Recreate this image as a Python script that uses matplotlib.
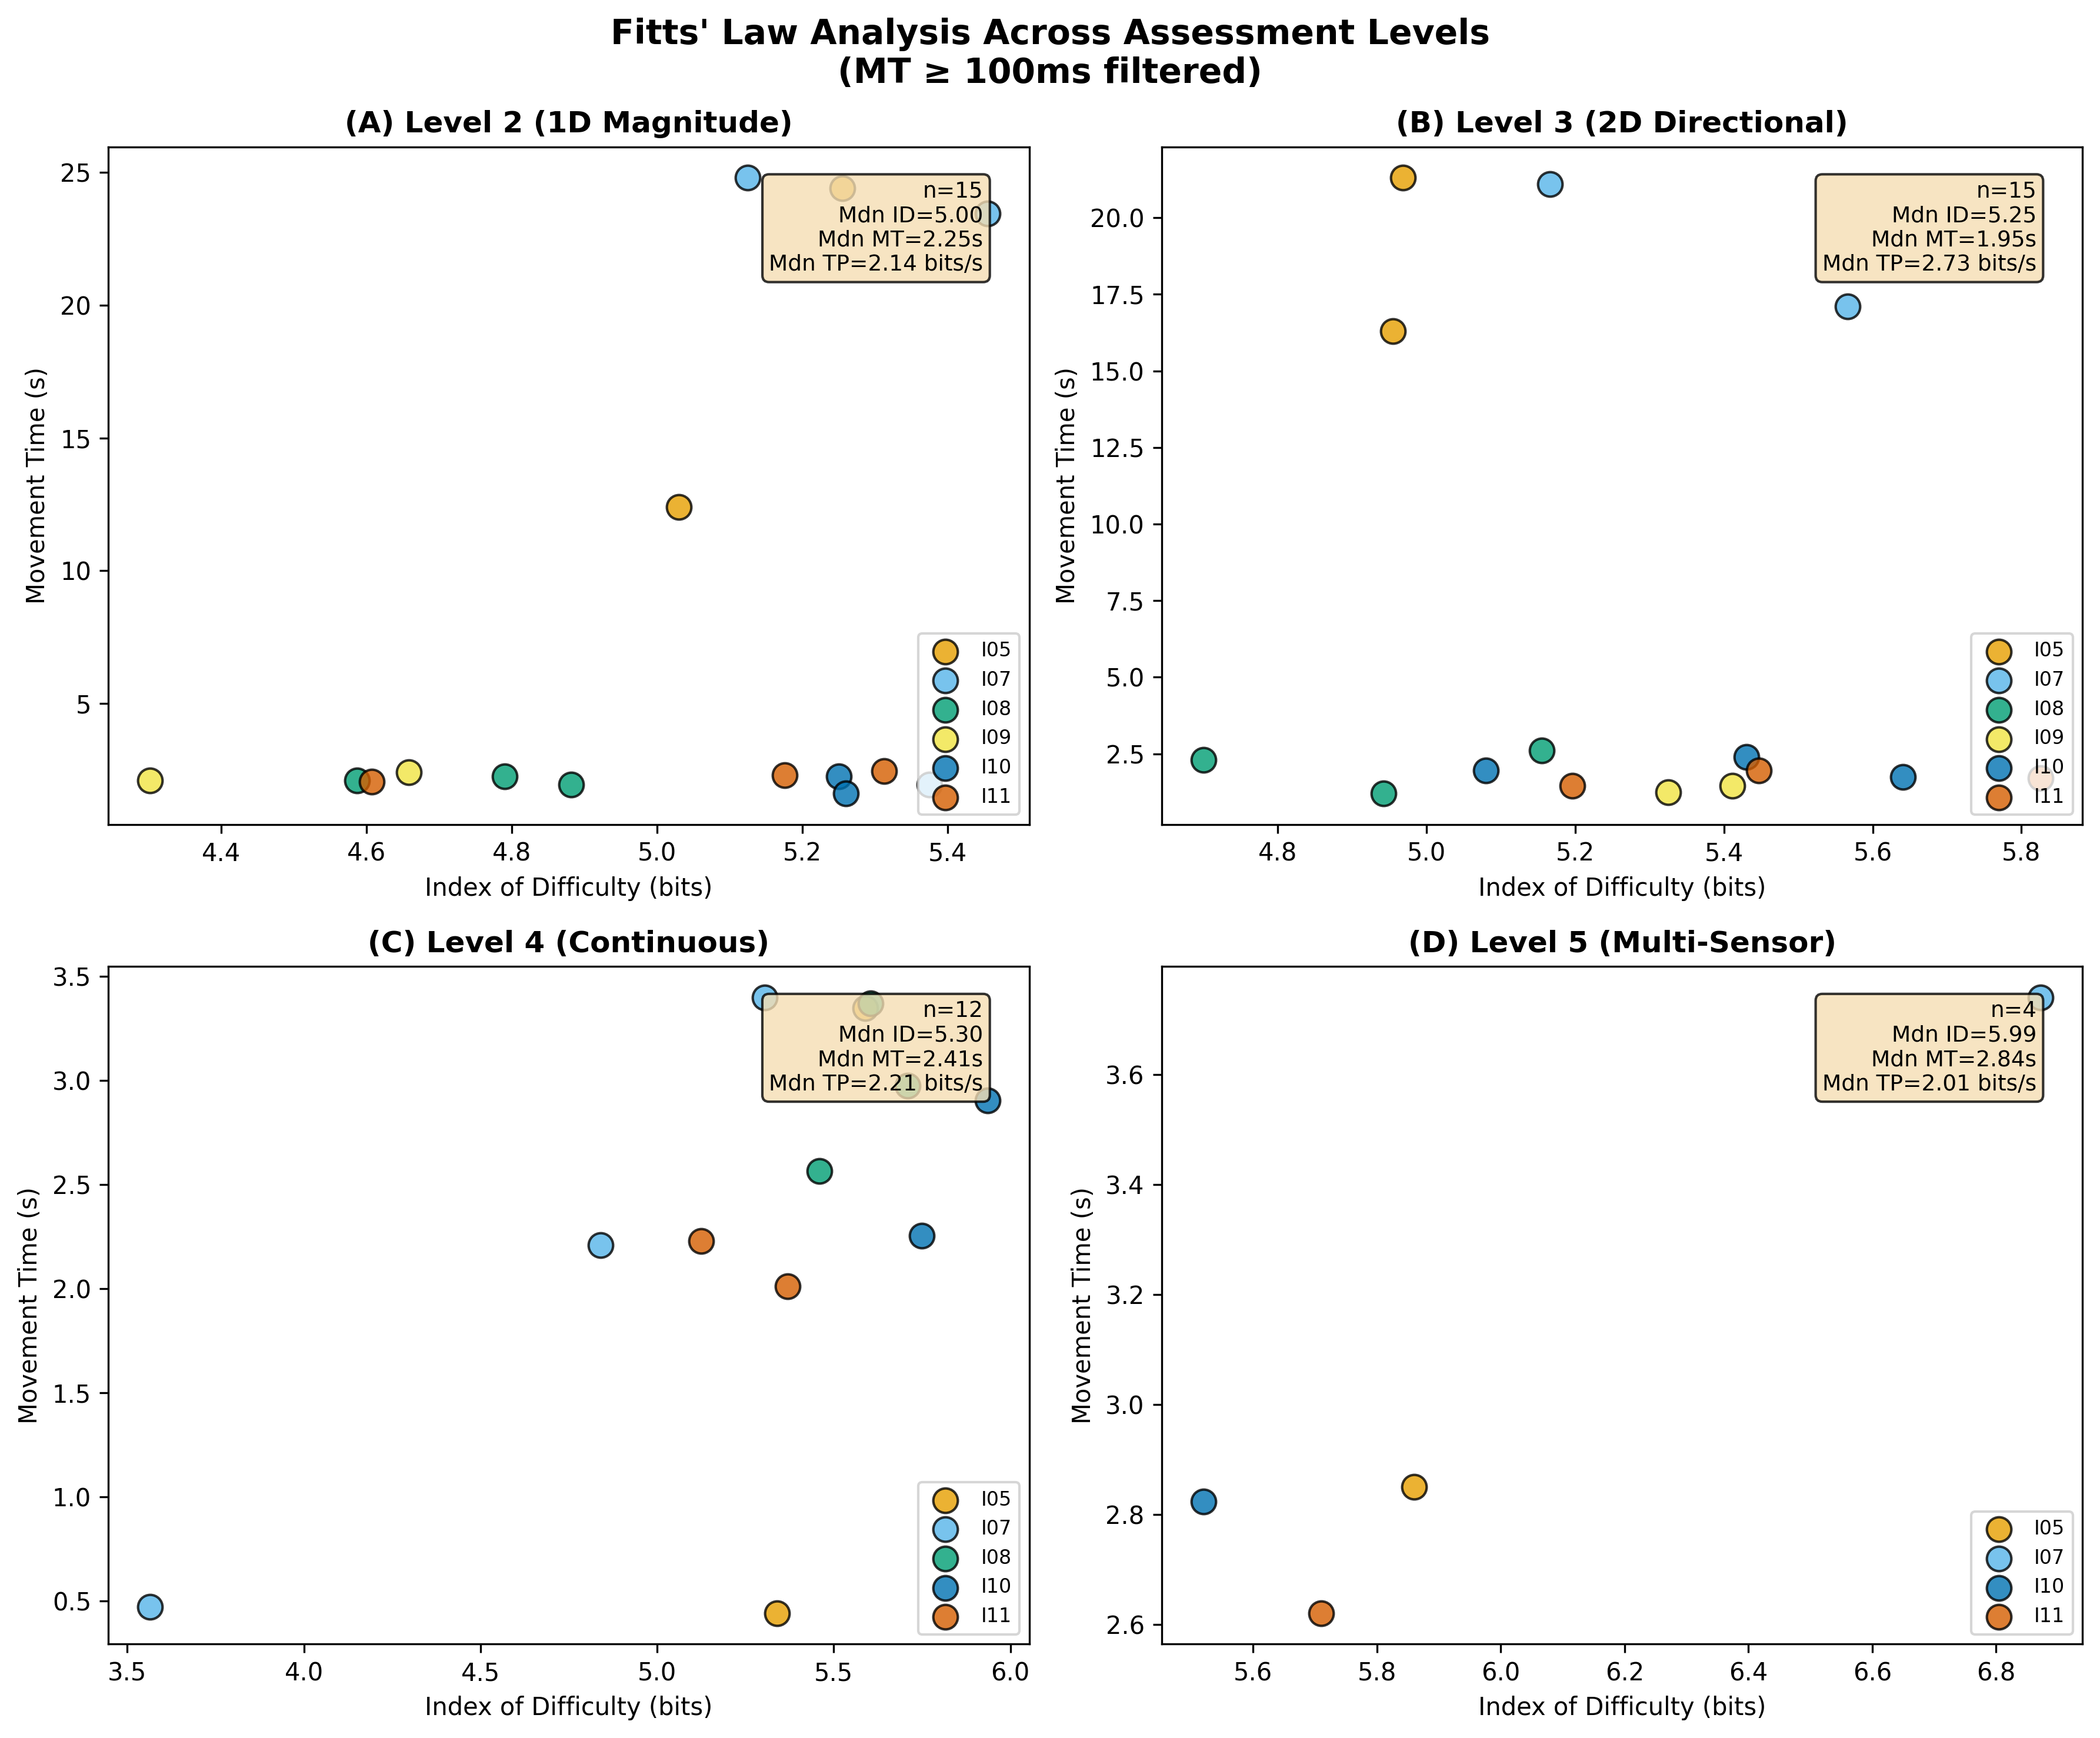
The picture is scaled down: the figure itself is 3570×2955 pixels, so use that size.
import numpy as np
import matplotlib.pyplot as plt

# participant colours (Okabe-Ito)
colors = {
    "I05": "#E69F00",
    "I07": "#56B4E9",
    "I08": "#009E73",
    "I09": "#F0E442",
    "I10": "#0072B2",
    "I11": "#D55E00",
}

# Level 2 (1D Magnitude)
l2_id = {
    "I05": [5.03, 5.255],
    "I07": [5.125, 5.455, 5.375],
    "I08": [4.587, 4.79, 4.882],
    "I09": [4.302, 4.658],
    "I10": [5.25, 5.26],
    "I11": [4.607, 5.176, 5.313],
}
l2_mt = {
    "I05": [12.4, 24.4],
    "I07": [24.8, 23.45, 1.95],
    "I08": [2.1, 2.25, 1.95],
    "I09": [2.1, 2.4],
    "I10": [2.25, 1.6],
    "I11": [2.05, 2.3, 2.45],
}
l2_stats = (15, 5.00, 2.25, 2.14)

# Level 3 (2D Directional)
l3_id = {
    "I05": [4.968, 4.955],
    "I07": [5.166, 5.566],
    "I08": [4.70, 4.942, 5.155],
    "I09": [5.325, 5.411],
    "I10": [5.08, 5.43, 5.641],
    "I11": [5.196, 5.447, 5.826],
}
l3_mt = {
    "I05": [21.3, 16.3],
    "I07": [21.1, 17.1],
    "I08": [2.3, 1.2, 2.6],
    "I09": [1.25, 1.45],
    "I10": [1.95, 2.4, 1.75],
    "I11": [1.45, 1.95, 1.7],
}
l3_stats = (15, 5.25, 1.95, 2.73)

# Level 4 (Continuous)
l4_id = {
    "I05": [5.34, 5.59],
    "I07": [3.565, 4.84, 5.305],
    "I08": [5.46, 5.605, 5.71],
    "I10": [5.75, 5.935],
    "I11": [5.125, 5.37],
}
l4_mt = {
    "I05": [0.44, 3.35],
    "I07": [0.47, 2.21, 3.40],
    "I08": [2.565, 3.37, 2.975],
    "I10": [2.255, 2.905],
    "I11": [2.23, 2.01],
}
l4_stats = (12, 5.30, 2.41, 2.21)

# Level 5 (Multi-Sensor)
l5_id = {"I05": [5.86], "I07": [6.872], "I10": [5.52], "I11": [5.71]}
l5_mt = {"I05": [2.85], "I07": [3.74], "I10": [2.823], "I11": [2.62]}
l5_stats = (4, 5.99, 2.84, 2.01)

panels = [
    ("(A) Level 2 (1D Magnitude)", l2_id, l2_mt, l2_stats),
    ("(B) Level 3 (2D Directional)", l3_id, l3_mt, l3_stats),
    ("(C) Level 4 (Continuous)", l4_id, l4_mt, l4_stats),
    ("(D) Level 5 (Multi-Sensor)", l5_id, l5_mt, l5_stats),
]

fig, axes = plt.subplots(2, 2, figsize=(12, 10))
fig.suptitle("Fitts' Law Analysis Across Assessment Levels\n(MT \u2265 100ms filtered)",
             fontsize=14, fontweight="bold")

for ax, (title, ids, mts, stats) in zip(axes.flat, panels):
    for pid in ids:
        ax.scatter(ids[pid], mts[pid], s=100, color=colors[pid], alpha=0.8,
                   edgecolors="black", linewidths=1, label=pid)
    n, mdn_id, mdn_mt, mdn_tp = stats
    txt = (f"n={n}\nMdn ID={mdn_id:.2f}\nMdn MT={mdn_mt:.2f}s\n"
           f"Mdn TP={mdn_tp:.2f} bits/s")
    ax.text(0.95, 0.95, txt, transform=ax.transAxes, fontsize=9,
            ha="right", va="top",
            bbox=dict(boxstyle="round", facecolor="wheat", alpha=0.8))
    ax.set_xlabel("Index of Difficulty (bits)")
    ax.set_ylabel("Movement Time (s)")
    ax.set_title(title, fontsize=12, fontweight="bold")
    ax.legend(loc="lower right", fontsize=8)

plt.tight_layout()
plt.savefig("out.png", dpi=300, bbox_inches="tight")
